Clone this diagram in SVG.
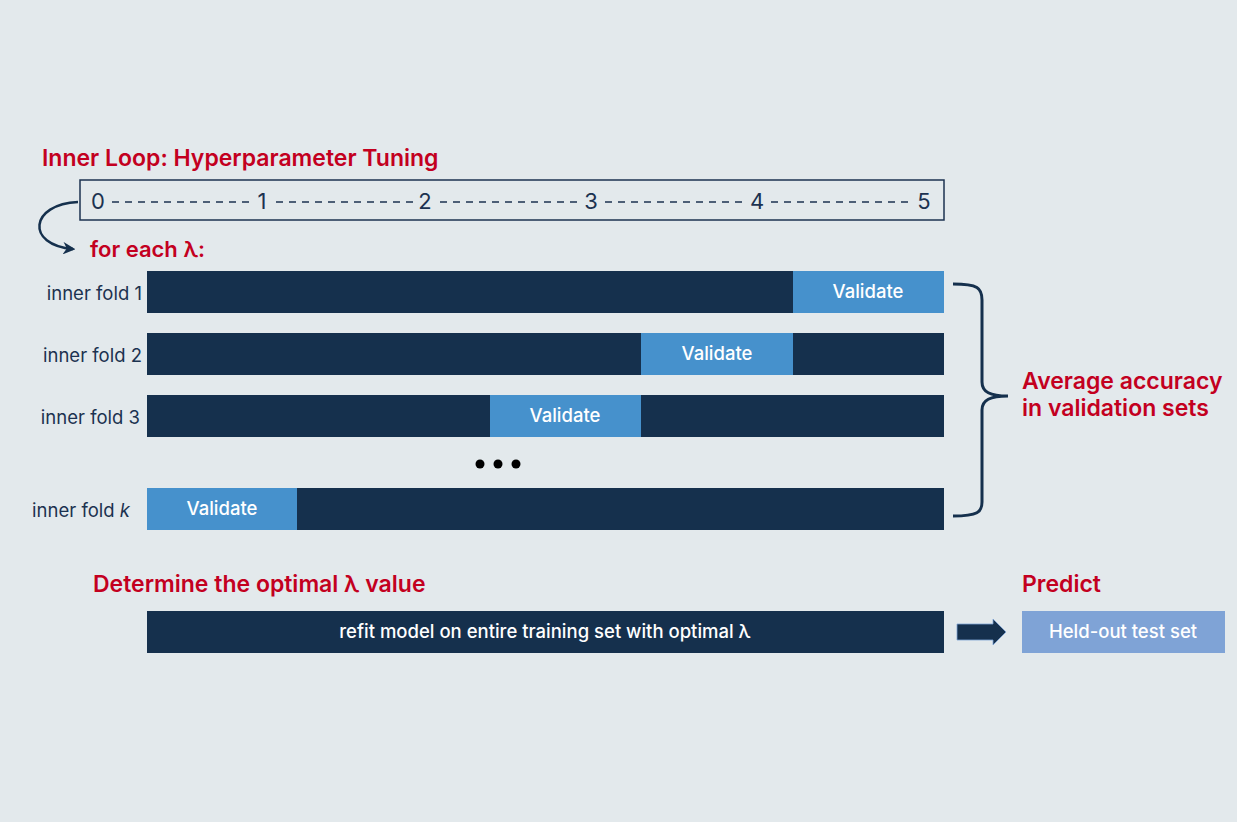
<svg xmlns="http://www.w3.org/2000/svg" width="1237" height="822" viewBox="0 0 1237 822">
<style>
.red{fill:#c3001f;font-family:Inter,"Liberation Sans",Arial,sans-serif;font-size:23px;font-weight:600}
.lab{fill:#1c3250;font-family:Inter,"Liberation Sans",Arial,sans-serif;font-size:18.5px}
.w{fill:#ffffff;font-family:Inter,"Liberation Sans",Arial,sans-serif;font-size:18.5px;font-weight:500}
.num{fill:#1c3250;font-family:Inter,"Liberation Sans",Arial,sans-serif;font-size:22px}
.dark{fill:#15304d}
.val{fill:#4691cc}
.dash{stroke:#1c3250;stroke-width:1.6;stroke-dasharray:7 6}
</style>
<defs>
<marker id="ah" viewBox="0 0 10 10" refX="8" refY="5" markerWidth="5" markerHeight="5" orient="auto">
<path d="M0,0 L10,5 L0,10 L3,5 z" fill="#15304d"/>
</marker>
</defs>
<rect width="1237" height="822" fill="#e3e9ec"/>
<text class="red" x="42" y="166">Inner Loop: Hyperparameter Tuning</text>
<g id="scale">
<rect x="80" y="180" width="864" height="40" fill="none" stroke="#1c3250" stroke-width="1.5"/>
<text class="num" x="98" y="209" text-anchor="middle">0</text>
<text class="num" x="262" y="209" text-anchor="middle">1</text>
<text class="num" x="425" y="209" text-anchor="middle">2</text>
<text class="num" x="591" y="209" text-anchor="middle">3</text>
<text class="num" x="757" y="209" text-anchor="middle">4</text>
<text class="num" x="924" y="209" text-anchor="middle">5</text>
<line class="dash" x1="112" y1="202" x2="252" y2="202"/>
<line class="dash" x1="276" y1="202" x2="415" y2="202"/>
<line class="dash" x1="440" y1="202" x2="580" y2="202"/>
<line class="dash" x1="605" y1="202" x2="746" y2="202"/>
<line class="dash" x1="771" y1="202" x2="913" y2="202"/>
</g>
<g id="connectors">
<path d="M78,202 C30,204 25,245 73,249" fill="none" stroke="#15304d" stroke-width="2.5" marker-end="url(#ah)"/>
<path d="M953,284 C978,284 982,288 982,300 L982,382 C982,392 990,396 1008,396 C990,396 982,400 982,410 L982,502 C982,512 978,516 953,516" fill="none" stroke="#15304d" stroke-width="3"/>
<path d="M957,624 L993,624 L993,619 L1006,632 L993,645 L993,640 L957,640 z" fill="#15304d" stroke="#7fa3d6" stroke-width="0.8"/>
</g>
<text class="red" x="90" y="257" style="font-size:22px">for each λ:</text>
<g id="fold1">
<text class="lab" x="142" y="300" text-anchor="end">inner fold 1</text>
<rect class="dark" x="147" y="271" width="797" height="42"/>
<rect class="val" x="793" y="271" width="151" height="42"/>
<text class="w" x="868" y="298" text-anchor="middle">Validate</text>
</g>
<g id="fold2">
<text class="lab" x="142" y="362" text-anchor="end">inner fold 2</text>
<rect class="dark" x="147" y="333" width="797" height="42"/>
<rect class="val" x="641" y="333" width="152" height="42"/>
<text class="w" x="717" y="360" text-anchor="middle">Validate</text>
</g>
<g id="fold3">
<text class="lab" x="140" y="424" text-anchor="end">inner fold 3</text>
<rect class="dark" x="147" y="395" width="797" height="42"/>
<rect class="val" x="490" y="395" width="151" height="42"/>
<text class="w" x="565" y="422" text-anchor="middle">Validate</text>
</g>
<g id="dots">
<circle cx="480" cy="464" r="4.5" fill="#000"/>
<circle cx="498" cy="464" r="4.5" fill="#000"/>
<circle cx="516" cy="464" r="4.5" fill="#000"/>
</g>
<g id="foldk">
<text class="lab" x="130" y="517" text-anchor="end">inner fold <tspan font-style="italic">k</tspan></text>
<rect class="dark" x="147" y="488" width="797" height="42"/>
<rect class="val" x="147" y="488" width="150" height="42"/>
<text class="w" x="222" y="515" text-anchor="middle">Validate</text>
</g>
<g id="average">
<text class="red" x="1022" y="389">Average accuracy</text>
<text class="red" x="1022" y="416">in validation sets</text>
</g>
<text class="red" x="93" y="592">Determine the optimal λ value</text>
<g id="refit">
<rect class="dark" x="147" y="611" width="797" height="42"/>
<text class="w" x="545" y="638" text-anchor="middle">refit model on entire training set with optimal λ</text>
</g>
<g id="predict">
<text class="red" x="1022" y="592">Predict</text>
<rect x="1022" y="611" width="203" height="42" fill="#7fa3d6"/>
<text class="w" x="1123" y="638" text-anchor="middle">Held-out test set</text>
</g>
</svg>
